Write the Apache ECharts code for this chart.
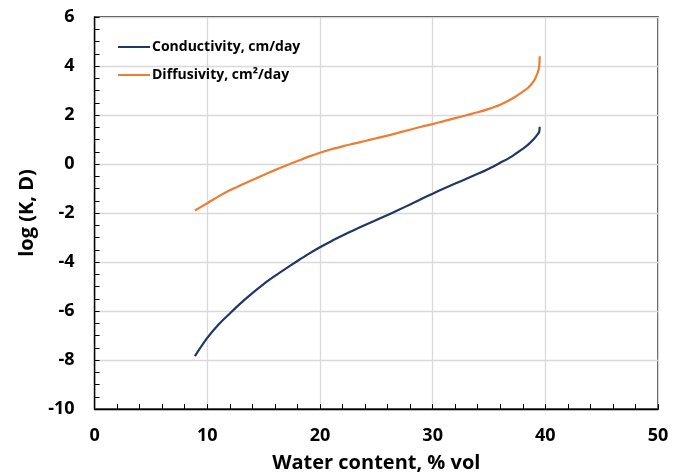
<!DOCTYPE html>
<html>
<head>
<meta charset="utf-8">
<script src="https://cdn.jsdelivr.net/npm/echarts@6/dist/echarts.min.js"></script>
<style>
    html, body { margin: 0; padding: 0; background: #fff; }
    #chart { width: 681px; height: 474px; }
</style>
</head>
<body>
<div id="chart"></div>
<script>
    // water content, % vol
    const theta = [8.9, 10, 11, 12, 13, 14, 15, 16, 17, 18, 19, 20, 21, 22, 23, 24, 25, 26, 27, 28, 29, 30,
        31, 32, 33, 34, 35, 36, 37, 38, 38.5, 39, 39.3, 39.45, 39.5];
    // log conductivity, cm/day
    const logK = [-7.84, -7.1, -6.55, -6.1, -5.67, -5.27, -4.9, -4.57, -4.26, -3.96, -3.67, -3.4, -3.15,
        -2.92, -2.7, -2.49, -2.29, -2.08, -1.87, -1.65, -1.43, -1.21, -1.0, -0.8, -0.6, -0.4, -0.19, 0.05, 0.3,
        0.62, 0.8, 1.03, 1.2, 1.3, 1.52];
    // log diffusivity, cm2/day
    const logD = [-1.9, -1.6, -1.32, -1.07, -0.86, -0.65, -0.45, -0.25, -0.06, 0.12, 0.3, 0.46, 0.6,
        0.72, 0.83, 0.94, 1.05, 1.16, 1.28, 1.4, 1.52, 1.63, 1.75, 1.87, 1.99, 2.11, 2.25, 2.42, 2.65,
        2.95, 3.12, 3.4, 3.7, 3.95, 4.4];
    const seriesNames = ["Conductivity, cm/day", "Diffusivity, cm\u00b2/day"];

    const font = "'Open Sans', 'Noto Sans', sans-serif";

    function pairs(ys) {
        return theta.map((t, i) => [t, ys[i]]);
    }

    let chart = echarts.init(document.getElementById("chart"));
    let option = {
        animation: false,
        textStyle: { fontFamily: font },
        grid: {
            left: 94.6, right: 23, top: 17, bottom: 65,
            outerBoundsMode: "none",
            show: true, borderColor: "#000", borderWidth: 1.3
        },
        legend: {
            orient: "vertical",
            left: 113, top: 35,
            icon: "rect",
            itemWidth: 32, itemHeight: 2, itemGap: 14,
            textStyle: { fontFamily: font, fontWeight: "bold", fontSize: 14, color: "#000", padding: [0, 0, 0, -3] },
            data: seriesNames
        },
        xAxis: {
            type: "value",
            min: 0, max: 50, interval: 10,
            name: "Water content, % vol",
            nameLocation: "middle", nameGap: 44,
            nameTextStyle: { fontFamily: font, fontWeight: "bold", fontSize: 20, color: "#000" },
            axisLine: { onZero: false, lineStyle: { color: "#000", width: 1.3 } },
            axisTick: { inside: true, length: 5, lineStyle: { color: "#000" } },
            minorTick: { show: true, splitNumber: 5, length: 5, lineStyle: { color: "#000" } },
            axisLabel: { margin: 18, fontFamily: font, fontWeight: "bold", fontSize: 18, color: "#000" },
            splitLine: { show: true, lineStyle: { color: "#d9d9d9", width: 1.3 } }
        },
        yAxis: {
            type: "value",
            min: -10, max: 6, interval: 2,
            name: "log (K, D)",
            nameLocation: "middle", nameGap: 56,
            nameTextStyle: { fontFamily: font, fontWeight: "bold", fontSize: 20, color: "#000" },
            axisLine: { show: true, onZero: false, lineStyle: { color: "#000", width: 1.3 } },
            axisTick: { show: true, inside: true, length: 5, lineStyle: { color: "#000" } },
            minorTick: { show: true, splitNumber: 4, length: 5, lineStyle: { color: "#000" } },
            axisLabel: { margin: 20, fontFamily: font, fontWeight: "bold", fontSize: 18, color: "#000" },
            splitLine: { show: true, lineStyle: { color: "#d9d9d9", width: 1.3 } }
        },
        series: [
            {
                name: seriesNames[0],
                type: "line",
                data: pairs(logK),
                symbol: "none",
                smooth: 0.3,
                lineStyle: { color: "#203864", width: 2.2 },
                itemStyle: { color: "#203864" }
            },
            {
                name: seriesNames[1],
                type: "line",
                data: pairs(logD),
                symbol: "none",
                smooth: 0.3,
                lineStyle: { color: "#ed7d31", width: 2.2 },
                itemStyle: { color: "#ed7d31" }
            }
        ]
    };
    chart.setOption(option);
</script>
</body>
</html>
